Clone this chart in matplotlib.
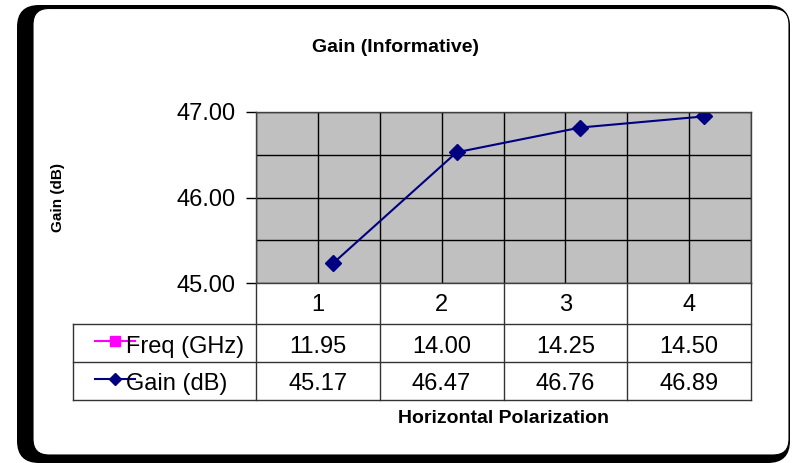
import numpy as np
import matplotlib.pyplot as plt
from matplotlib.patches import FancyBboxPatch
from matplotlib.transforms import offset_copy

plt.rcParams.update({"font.family": ["Liberation Sans", "DejaVu Sans"]})

# chart data
categories = ["1", "2", "3", "4"]
freq_ghz = [11.95, 14.00, 14.25, 14.50]
gain_db = [45.17, 46.47, 46.76, 46.89]
series_names = ["Freq (GHz)", "Gain (dB)"]
yticks = [45.0, 46.0, 47.0]

W, H = 792, 463
navy = "#000080"
pink = "#FF00FF"
line_col = "#333333"

fig = plt.figure(figsize=(W / 100, H / 100), dpi=100)

# background canvas in pixel coordinates (frame, data table, legend keys)
bg = fig.add_axes([0, 0, 1, 1], zorder=0)
bg.set_xlim(0, W)
bg.set_ylim(H, 0)
bg.axis("off")

bg.add_patch(FancyBboxPatch((17, 5), 773, 458, boxstyle="round,pad=0,rounding_size=22",
                            facecolor="black", edgecolor="none"))
bg.add_patch(FancyBboxPatch((33, 8.5), 756, 446.5, boxstyle="round,pad=0,rounding_size=16",
                            facecolor="white", edgecolor="black", linewidth=0.8))

# plot area box (pixels)
px_l, px_r, px_t, px_b = 256, 751, 112, 283
ax = fig.add_axes([px_l / W, 1 - px_b / H, (px_r - px_l) / W, (px_b - px_t) / H], zorder=1)
ax.set_facecolor("#C0C0C0")

x = np.arange(1, len(categories) + 1)
# Excel drew the series slightly shifted from the category centres
shifted = offset_copy(ax.transData, fig=fig, x=15, y=5, units="dots")
ax.plot(x, freq_ghz, color=pink, marker="s", markersize=7, linewidth=1.5, transform=shifted)
ax.plot(x, gain_db, color=navy, marker="D", markersize=8, linewidth=1.5, transform=shifted)

ax.set_xlim(0.5, len(categories) + 0.5)
ax.set_ylim(45, 47)
ax.set_xticks(x)
ax.set_xticks(np.arange(0.5, len(categories) + 0.6, 0.5), minor=True)
ax.set_yticks(yticks)
ax.set_yticks(np.arange(45, 47.01, 0.5), minor=True)
ax.set_yticklabels([f"{v:.2f}" for v in yticks], fontsize=17)
ax.tick_params(axis="x", which="both", length=0, labelbottom=False)
ax.tick_params(axis="y", which="major", length=7, width=1, pad=8, direction="out")
ax.tick_params(axis="y", which="minor", length=0)
ax.grid(True, which="both", color="black", linewidth=1)
ax.set_axisbelow(True)
for s in ax.spines.values():
    s.set_color("#404040")
    s.set_linewidth(1)

# data table
col_edges = np.linspace(px_l, px_r, len(categories) + 1)
col_mid = (col_edges[:-1] + col_edges[1:]) / 2
row_y = [283, 324, 362, 400]
leg_left = 73

for y in row_y[1:]:
    bg.plot([leg_left, px_r], [y, y], color=line_col, linewidth=1)
bg.plot([leg_left, leg_left], [row_y[1], row_y[3]], color=line_col, linewidth=1)
for xe in col_edges:
    bg.plot([xe, xe], [row_y[0], row_y[3]], color=line_col, linewidth=1)

for cx, lab in zip(col_mid, categories):
    bg.text(cx, 311, lab, ha="center", va="baseline", fontsize=17)
for cx, fv, gv in zip(col_mid, freq_ghz, gain_db):
    bg.text(cx, 353, f"{fv:.2f}", ha="center", va="baseline", fontsize=17)
    bg.text(cx, 390, f"{gv:.2f}", ha="center", va="baseline", fontsize=17)

# legend keys inside the table
bg.plot([95, 135], [341, 341], color=pink, linewidth=1.5)
bg.plot([115], [341], marker="s", color=pink, markersize=7)
bg.plot([95, 135], [379, 379], color=navy, linewidth=1.5)
bg.plot([115], [379], marker="D", color=navy, markersize=6)
bg.text(126, 353, series_names[0], ha="left", va="baseline", fontsize=17)
bg.text(126, 390, series_names[1], ha="left", va="baseline", fontsize=17)

# titles
bg.text(396, 52, "Gain (Informative)", ha="center", va="baseline",
        fontsize=14, fontweight="bold")
bg.text(58, 197, "Gain (dB)", ha="center", va="center",
        rotation=90, fontsize=11, fontweight="bold")
bg.text(503, 423, "Horizontal Polarization", ha="center", va="baseline",
        fontsize=14, fontweight="bold")

fig.savefig("out.png", dpi=100)
